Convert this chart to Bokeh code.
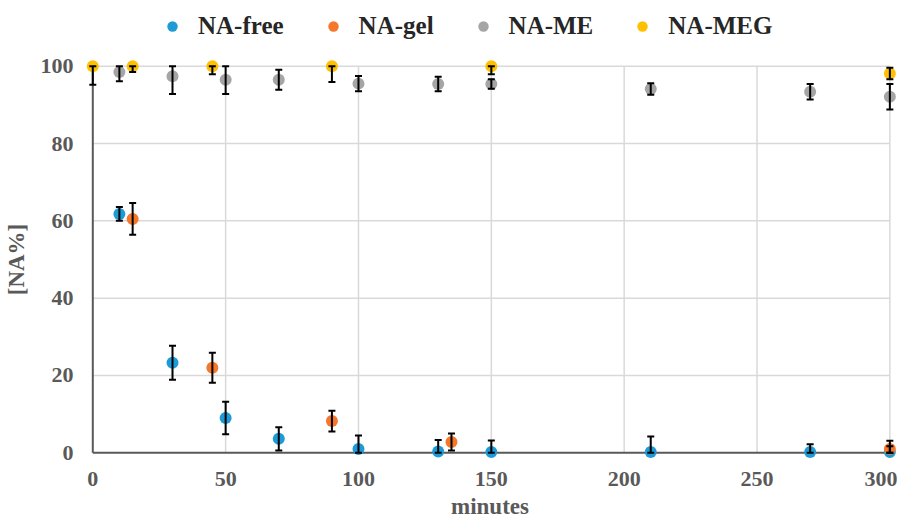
from bokeh.plotting import figure
from bokeh.layouts import column
from bokeh.models import (ColumnDataSource, Whisker, TeeHead, Legend, LegendItem,
                          FixedTicker, Range1d)
from bokeh.embed import file_html
from bokeh.resources import INLINE

# ---- data -----------------------------------------------------------------
x_ticks = [0, 50, 100, 150, 200, 250, 300]
y_ticks = [0, 20, 40, 60, 80, 100]

free_x = [10, 30, 50, 70, 100, 130, 150, 210, 270, 300]
free_y = [61.8, 23.3, 9.0, 3.6, 1.0, 0.3, 0.2, 0.2, 0.2, 0.2]
free_err = [1.8, 4.4, 4.2, 3.0, 3.5, 3.0, 3.0, 4.0, 2.0, 1.5]

gel_x = [15, 45, 90, 135, 300]
gel_y = [60.5, 22.0, 8.2, 2.8, 1.0]
gel_err = [4.1, 3.9, 2.7, 2.2, 2.1]

me_x = [10, 30, 50, 70, 100, 130, 150, 210, 270, 300]
me_y = [98.5, 97.4, 96.5, 96.5, 95.5, 95.4, 95.4, 94.1, 93.4, 92.1]
me_err = [2.4, 4.6, 3.7, 2.6, 2.0, 1.9, 1.2, 1.5, 2.0, 3.3]

meg_x = [0, 15, 45, 90, 150, 300]
meg_y = [100, 100, 100, 100, 100, 98.1]
meg_err = [4.8, 1.5, 2.1, 4.1, 2.1, 1.5]

series_names = ["NA-free", "NA-gel", "NA-ME", "NA-MEG"]
series_colors = ["#1E9BD7", "#F4772B", "#A5A5A5", "#FFC000"]
series_data = [(free_x, free_y, free_err), (gel_x, gel_y, gel_err),
               (me_x, me_y, me_err), (meg_x, meg_y, meg_err)]

x_title = "minutes"
y_title = "[NA%]"

# ---- main figure ----------------------------------------------------------
SERIF = "Liberation Serif"
TICK_COLOR = "#595959"
W = 897

p = figure(width=W, height=473,
           x_range=Range1d(-3.5, 302.5), y_range=Range1d(-2, 102),
           output_backend="svg", toolbar_location=None,
           min_border_left=72, min_border_right=1,
           min_border_top=10, min_border_bottom=50)
p.xgrid.visible = False
p.ygrid.visible = False
p.outline_line_color = None
p.background_fill_color = "white"
p.border_fill_color = "white"

x_lo, x_hi = x_ticks[0], x_ticks[-1]
y_lo, y_hi = y_ticks[0], y_ticks[-1]

# gridlines (bounded to the data area)
vx = x_ticks[1:]
p.segment(x0=vx, y0=[y_lo] * len(vx), x1=vx, y1=[y_hi] * len(vx),
          line_color="#D9D9D9", line_width=1.5)
hy = y_ticks[1:]
p.segment(x0=[x_lo] * len(hy), y0=hy, x1=[x_hi] * len(hy), y1=hy,
          line_color="#D9D9D9", line_width=1.5)
# axis lines
p.segment(x0=[x_lo, x_lo], y0=[y_lo, y_lo], x1=[x_lo, x_hi], y1=[y_hi, y_lo],
          line_color="#595959", line_width=2)

# error bars
for (xs, ys, es), col in zip(series_data, series_colors):
    upper = [min(y + e, y_hi) for y, e in zip(ys, es)]
    lower = [max(y - e, y_lo) for y, e in zip(ys, es)]
    src = ColumnDataSource(dict(x=xs, upper=upper, lower=lower))
    w = Whisker(source=src, base="x", upper="upper", lower="lower",
                line_color="black", line_width=2, level="glyph",
                upper_head=TeeHead(size=7, line_width=2, line_color="black"),
                lower_head=TeeHead(size=7, line_width=2, line_color="black"))
    p.add_layout(w)

# markers
for (xs, ys, es), col in zip(series_data, series_colors):
    p.scatter(x=xs, y=ys, size=12, fill_color=col, line_color=None)

# axes
for ax, ticks in ((p.xaxis[0], x_ticks), (p.yaxis[0], y_ticks)):
    ax.ticker = FixedTicker(ticks=ticks)
    ax.axis_line_color = None
    ax.major_tick_line_color = None
    ax.minor_tick_line_color = None
    ax.major_tick_out = 0
    ax.major_tick_in = 0
    ax.major_label_text_font = SERIF
    ax.major_label_text_font_style = "bold"
    ax.major_label_text_font_size = "22px"
    ax.major_label_text_color = TICK_COLOR
    ax.axis_label_text_font = SERIF
    ax.axis_label_text_font_style = "bold"
    ax.axis_label_text_font_size = "23px"
    ax.axis_label_text_color = TICK_COLOR

p.xaxis.axis_label = x_title
p.yaxis.axis_label = y_title
p.xaxis.major_label_standoff = 11
p.xaxis.axis_label_standoff = 5
p.yaxis.major_label_standoff = 10
p.yaxis.axis_label_standoff = 9

# ---- legend strip ---------------------------------------------------------
# the strip's view range lies away from the data, so only the legend shows
lg = figure(width=W, height=48, x_range=Range1d(-1001, -1000),
            y_range=Range1d(-1001, -1000),
            output_backend="svg", toolbar_location=None, min_border=0)
lg.axis.visible = False
lg.xgrid.visible = False
lg.ygrid.visible = False
lg.outline_line_color = None
lg_items = []
for name, col, (xs, ys, es) in zip(series_names, series_colors, series_data):
    r = lg.scatter(x=xs, y=ys, size=12, fill_color=col, line_color=None)
    lg_items.append(LegendItem(label=name, renderers=[r]))

legend = Legend(items=lg_items, orientation="horizontal", location=(76, 8),
                glyph_width=26, glyph_height=26, label_standoff=13,
                spacing=36, padding=0, margin=0,
                border_line_color=None, background_fill_alpha=0,
                label_text_font=SERIF, label_text_font_style="bold",
                label_text_font_size="25px", label_text_color="#262626")
lg.add_layout(legend, "center")

layout = column(lg, p, spacing=0)
open("out.html", "w").write(file_html(layout, INLINE))
